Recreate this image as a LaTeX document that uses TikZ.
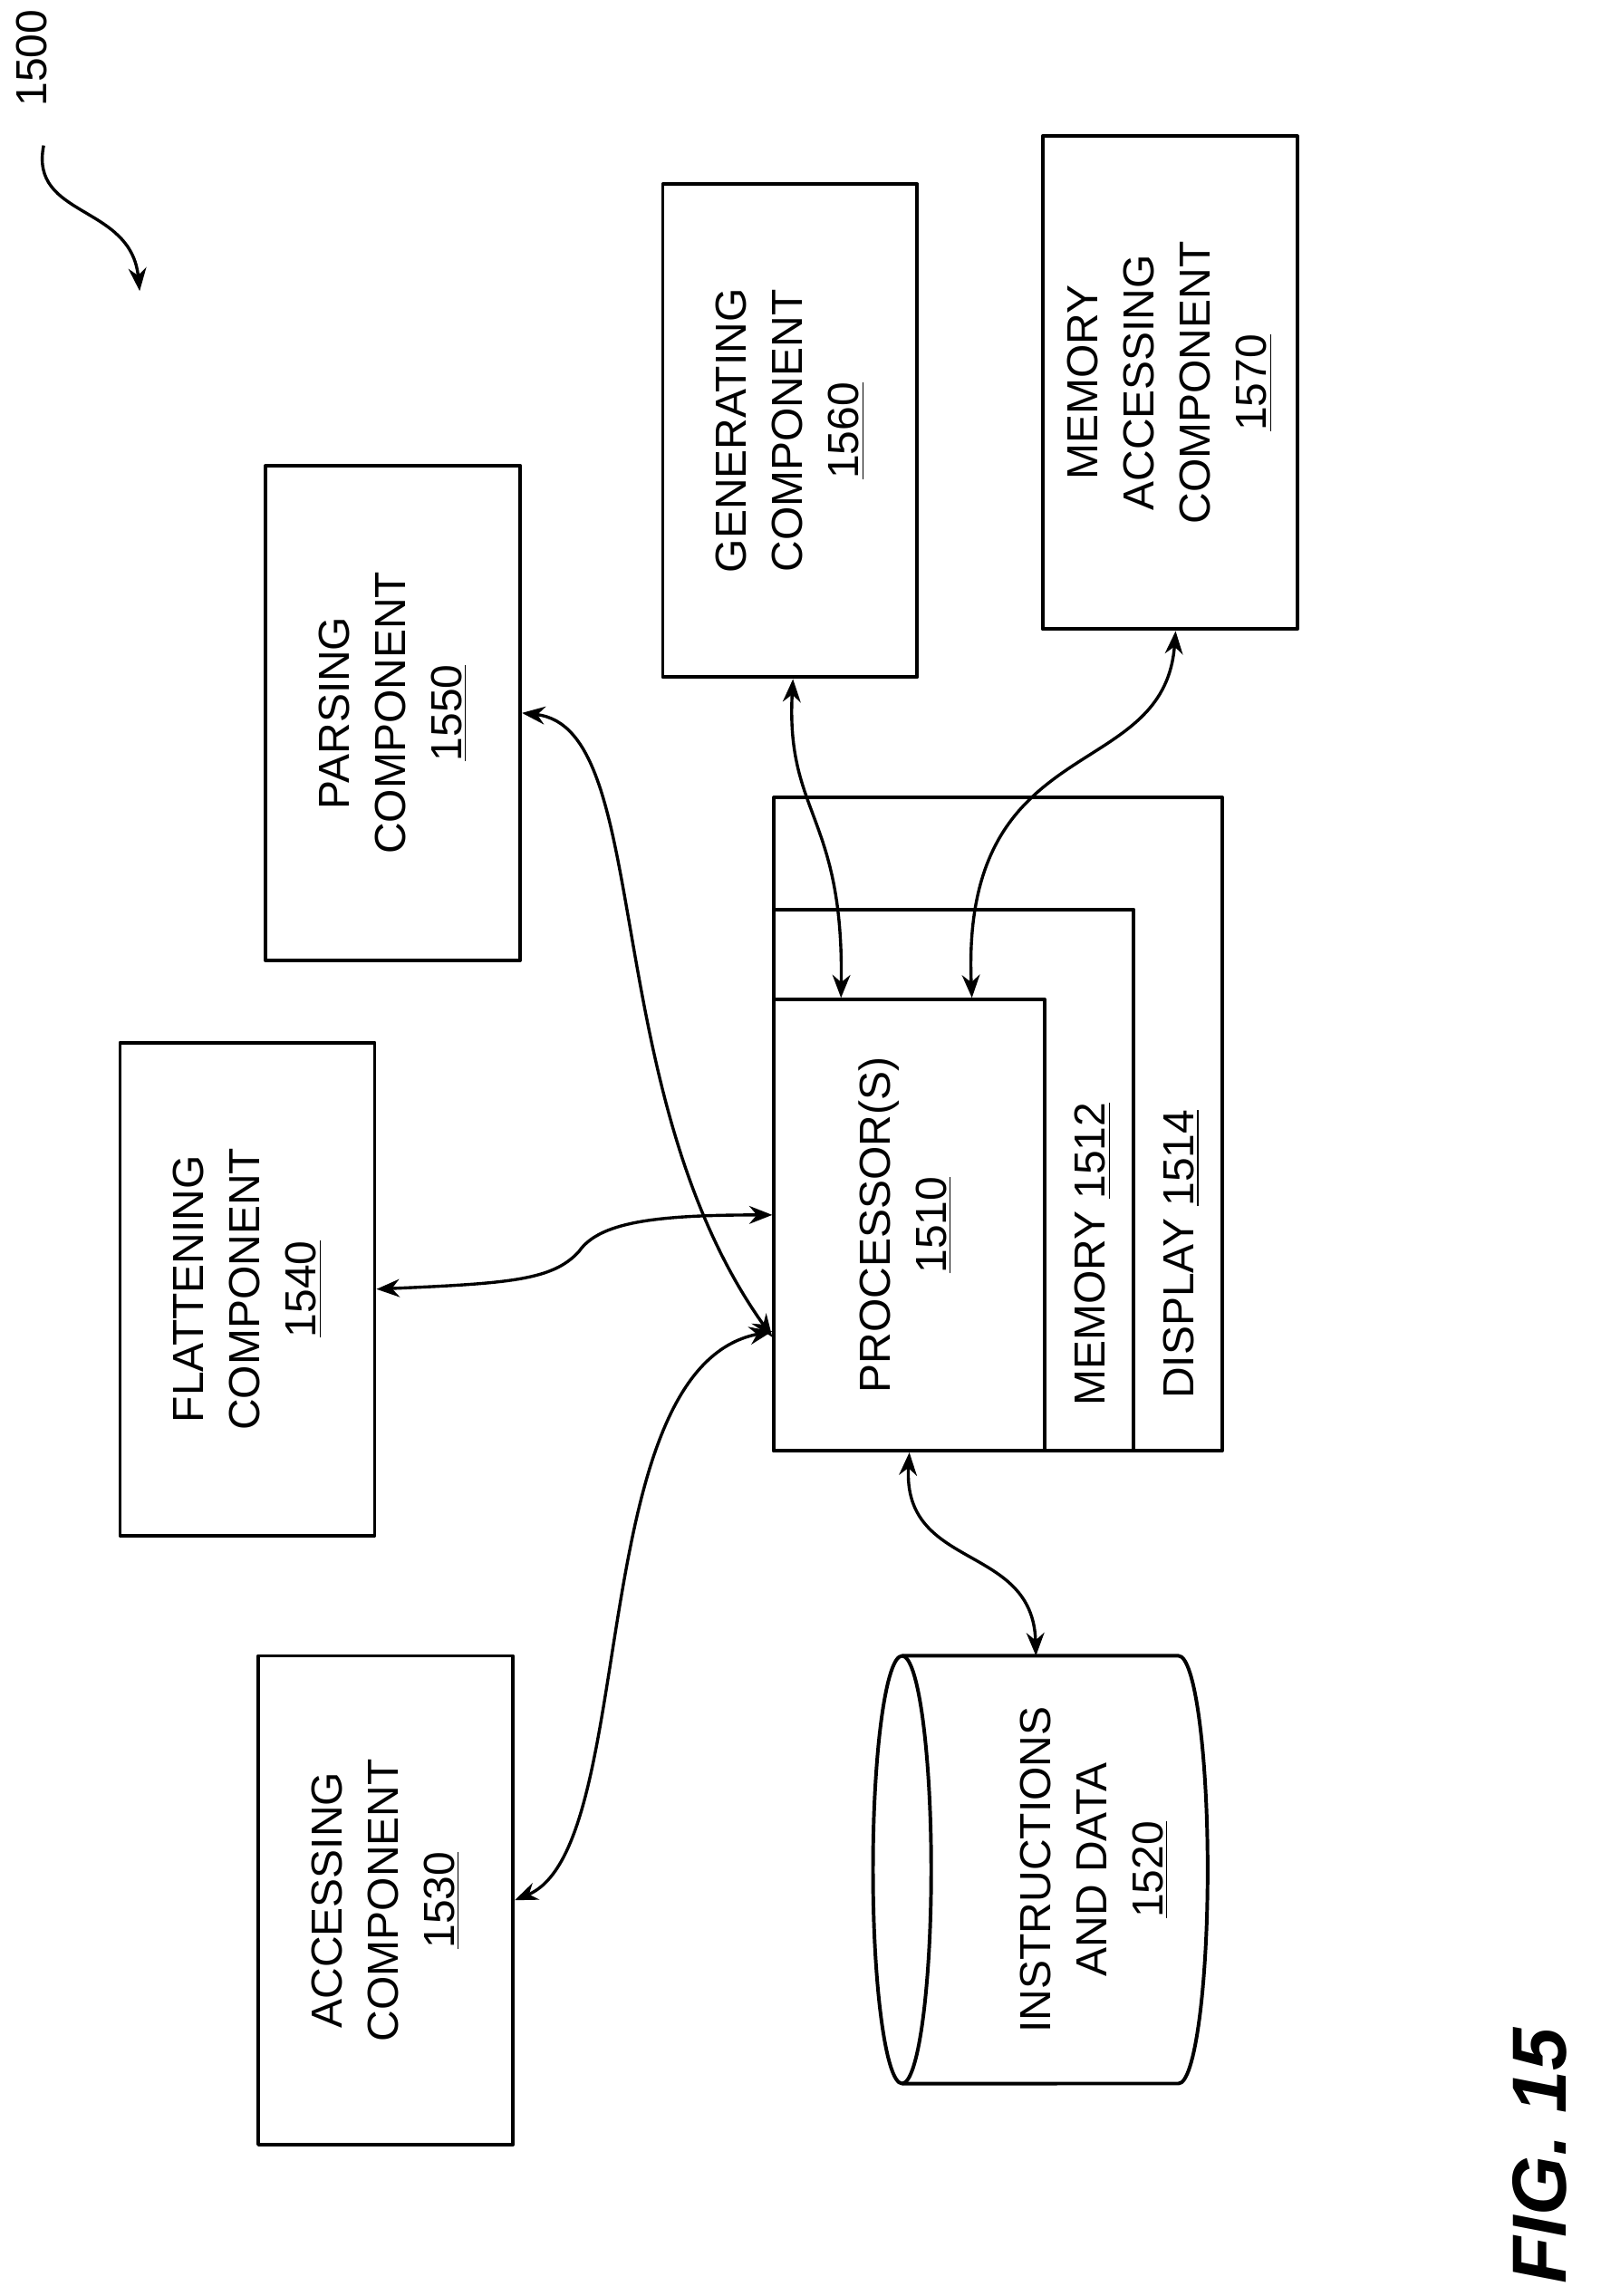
\documentclass[tikz,border=0pt]{standalone}
\usepackage{fontspec}
\setmainfont{Liberation Sans}
\usetikzlibrary{arrows.meta}
\tikzset{
  box/.style={draw,line width=1.4pt,minimum width=3.5cm,inner sep=0pt},
  lbl/.style={rotate=90,align=center,font=\fontsize{17}{22}\selectfont},
  link/.style={line width=1.2pt,{Stealth[length=9pt,width=7pt]}-{Stealth[length=9pt,width=7pt]}}
}
\begin{document}
\begin{tikzpicture}[x=0.02cm,y=-0.02cm,join=round] % computing system with components
        \useasboundingbox (0,0) rectangle (1100,1578);
        % outer stack
        \draw[line width=1.4pt] (532,548) rectangle (840,997);
        \draw[line width=1.4pt] (532,625) rectangle (779,997);
        \node[box,minimum width=3.72cm,minimum height=6.2cm] (proc) at (625,842) {};
        \node[lbl] at (622,842) {PROCESSOR(S)\\\underline{1510}};
        \node[lbl] at (751,862) {MEMORY \underline{1512}};
        \node[lbl] at (812,862) {DISPLAY \underline{1514}};
        % components
        \node[box,minimum height=6.72cm] (acc) at (265,1306) {};
        \node[lbl] at (265,1306) {ACCESSING\\COMPONENT\\\underline{1530}};
        \node[box,minimum height=6.78cm] (fla) at (170,886) {};
        \node[lbl] at (170,886) {FLATTENING\\COMPONENT\\\underline{1540}};
        \node[box,minimum height=6.8cm] (par) at (270,490) {};
        \node[lbl] at (270,490) {PARSING\\COMPONENT\\\underline{1550}};
        \node[box,minimum height=6.78cm] (gen) at (543,296) {};
        \node[lbl] at (543,296) {GENERATING\\COMPONENT\\\underline{1560}};
        \node[box,minimum height=6.78cm] (mac) at (804,263) {};
        \node[lbl] at (804,263) {MEMORY\\ACCESSING\\COMPONENT\\\underline{1570}};
        % data store
        \draw[line width=1.4pt] (620,1285) ellipse [x radius=0.4cm,y radius=2.94cm];
        \draw[line width=1.4pt] (620,1138) -- (810,1138)
                arc[start angle=90,end angle=-90,x radius=0.4cm,y radius=2.94cm] -- (620,1432);
        \node[lbl] (dat) at (752,1285) {INSTRUCTIONS\\AND DATA\\\underline{1520}};
        \coordinate (dattop) at (712,1138);
        % links
        \draw[link] (par.east) .. controls (450,500) and (410,750) .. ([yshift=-77*0.02cm]proc.west);
        \draw[link] (fla.east) .. controls (350,882) and (380,880) .. (398,860)
                .. controls (412,840) and (450,835) .. ([yshift=0.14cm]proc.west);
        \draw[link] (acc.east) .. controls (440,1270) and (400,940) .. ([yshift=-1.46cm]proc.west);
        \draw[link] (gen.south) ++(2,0) .. controls (540,560) and (580,560) .. ([xshift=-0.94cm]proc.north);
        \draw[link] (mac.south) ++(4,0) .. controls (800,540) and (660,500) .. ([xshift=0.86cm]proc.north);
        \draw[link] (proc.south) .. controls (620,1080) and (710,1060) .. (dattop);
        % figure marks
        \node[lbl] (ref) at (22,40) {1500};
        \draw[line width=1.2pt,-{Stealth[length=9pt,width=7pt]}] (30,100) .. controls (20,150) and (90,140) .. (96,200);
        \node[rotate=90,font=\fontsize{30}{32}\selectfont\bfseries\itshape] (fig) at (1058,1482) {FIG. 15};
\end{tikzpicture}
\end{document}
